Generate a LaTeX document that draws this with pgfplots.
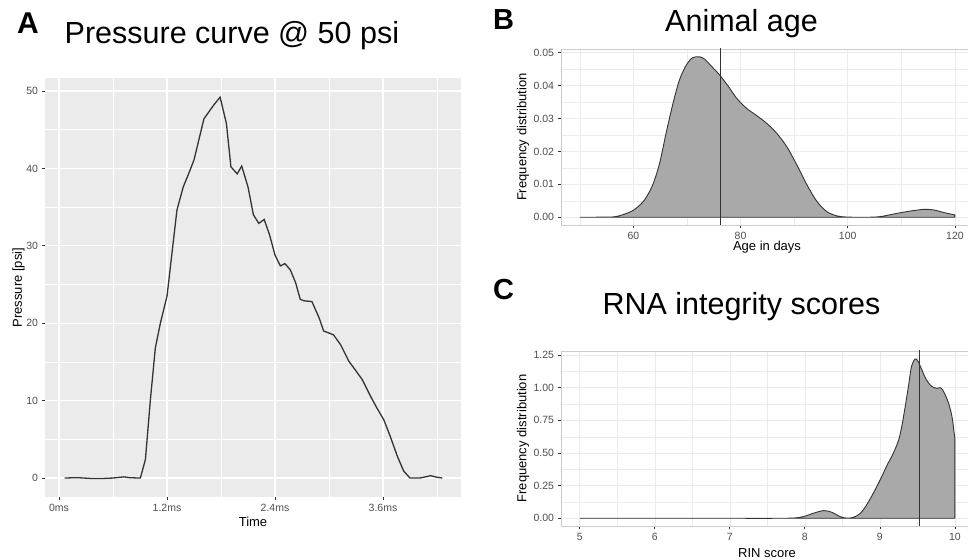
\documentclass[border=0pt]{standalone}
\usepackage{pgfplots}
\pgfplotsset{compat=1.18}
\usepackage{fontspec}
\setmainfont{Liberation Sans}
\definecolor{bgA}{HTML}{EBEBEB}
\definecolor{gridB}{HTML}{EBEBEB}
\definecolor{borderB}{HTML}{CCCCCC}
\definecolor{tickc}{HTML}{333333}
\definecolor{ticklab}{HTML}{4D4D4D}
\definecolor{fillc}{HTML}{A9A9A9}
\definecolor{linec}{HTML}{333333}
\begin{document}
\begin{tikzpicture}
\pgfplotsset{
  common/.style={scale only axis, anchor=south west, tick align=outside,
    major tick length=3.5pt, minor tick length=0pt,
    xtick pos=bottom, ytick pos=left, scaled ticks=false,
    tick style={tickc, line width=0.8pt},
    /pgf/number format/assume math mode=true,
    tick label style={font=\fontsize{10.5}{12}\selectfont, text=ticklab},
    grid=both, clip=true},
}
% ---------------- Panel A
\begin{axis}[common, at={(45pt,62pt)}, width=416pt, height=419pt,
  xmin=-0.156, xmax=4.467, ymin=-2.45, ymax=51.68,
  axis background/.style={fill=bgA}, axis line style={draw=none},
  xtick={0,1.2,2.4,3.6}, xticklabels={0ms,1.2ms,2.4ms,3.6ms},
  minor xtick={0.6,1.8,3.0,4.2},
  ytick={0,10,20,30,40,50}, yticklabels={0,10,20,30,40,50},
  minor ytick={5,15,25,35,45},
  major grid style={white, line width=1.2pt},
  minor grid style={white, line width=0.6pt}]
\addplot[linec, line width=1.3pt] coordinates {
(0.063,0) (0.2,0.05) (0.35,-0.05) (0.5,-0.05) (0.6,0) (0.72,0.15) (0.78,0.05) (0.84,0.02) (0.904,0)
(0.96,2.4) (1.015,10.1) (1.07,16.8) (1.126,20) (1.2,23.5) (1.31,34.6) (1.38,37.6) (1.44,39.3)
(1.50,41.1) (1.61,46.4) (1.72,48.2) (1.79,49.2) (1.86,45.8) (1.91,40.2) (1.98,39.3) (2.03,40.3)
(2.10,37.6) (2.16,34.0) (2.22,32.9) (2.28,33.4) (2.34,31.4) (2.40,28.8) (2.46,27.4) (2.51,27.7)
(2.57,26.9) (2.63,25.2) (2.68,23.1) (2.72,22.9) (2.81,22.8) (2.89,20.7) (2.94,19.0) (3.05,18.5)
(3.13,17.2) (3.22,15.1) (3.29,14.0) (3.37,12.7) (3.46,10.6) (3.53,9.1) (3.61,7.5) (3.68,5.4)
(3.76,2.8) (3.83,0.9) (3.90,0) (4.01,0) (4.13,0.3) (4.2,0.1) (4.26,0)};
\end{axis}
% ---------------- Panel B
\begin{axis}[common, at={(561pt,334pt)}, width=412.7pt, height=176pt,
  xmin=46.5, xmax=123.5, ymin=-0.00234, ymax=0.05112,
  axis line style={borderB, line width=0.8pt},
  xtick={60,80,100,120}, xticklabels={60,80,100,120}, minor xtick={50,70,90,110},
  ytick={0,0.01,0.02,0.03,0.04,0.05}, yticklabels={0.00,0.01,0.02,0.03,0.04,0.05},
  minor ytick={0.005,0.015,0.025,0.035,0.045},
  major grid style={gridB, line width=0.6pt},
  minor grid style={gridB, line width=0.3pt}]
\addplot[smooth, tension=0.5, fill=fillc, draw=linec, line width=0.9pt] coordinates {
(50,0) (54,0.00003) (56.75,0.0002) (59.25,0.0015) (60.5,0.0027) (62.1,0.0053) (63.6,0.0098)
(64.9,0.0164) (66.1,0.0255) (67.4,0.0346) (68.6,0.0417) (69.9,0.0463) (71.1,0.0485) (72.4,0.0487)
(73.3,0.0480) (74.6,0.0458) (76.1,0.0432) (77.7,0.0398) (79.25,0.0362) (81.1,0.0331) (83.0,0.0309)
(84.9,0.0285) (86.75,0.0255) (88.6,0.0215) (90.5,0.0159) (92.4,0.0098) (94.25,0.0048) (96.1,0.0017)
(98.0,0.0004) (100,0.00005) (103.6,0) (106.1,0.0002) (109.25,0.0012) (111.75,0.0019) (114.25,0.0024)
(116.1,0.0022) (118.0,0.0014) (120,0.0007)} \closedcycle;
\addplot[linec, line width=1pt] coordinates {(76.25,-1) (76.25,1)};
\end{axis}
% ---------------- Panel C
\begin{axis}[common, at={(561pt,33pt)}, width=412.7pt, height=175pt,
  xmin=4.75, xmax=10.25, ymin=-0.059, ymax=1.281,
  axis line style={borderB, line width=0.8pt},
  xtick={5,6,7,8,9,10}, xticklabels={5,6,7,8,9,10}, minor xtick={5.5,6.5,7.5,8.5,9.5},
  ytick={0,0.25,0.5,0.75,1,1.25}, yticklabels={0.00,0.25,0.50,0.75,1.00,1.25},
  minor ytick={0.125,0.375,0.625,0.875,1.125},
  major grid style={gridB, line width=0.6pt},
  minor grid style={gridB, line width=0.3pt}]
\addplot[smooth, tension=0.5, fill=fillc, draw=linec, line width=0.9pt] coordinates {
(5,0) (6,0) (7,0) (7.6,0) (7.85,0.002) (7.98,0.013) (8.11,0.038) (8.25,0.059) (8.36,0.046)
(8.47,0.013) (8.56,0.001) (8.65,0.008) (8.74,0.038) (8.82,0.10) (8.91,0.19) (9.0,0.29)
(9.09,0.40) (9.18,0.50) (9.25,0.60) (9.29,0.70) (9.33,0.83) (9.38,1.01) (9.42,1.16) (9.47,1.22)
(9.51,1.20) (9.56,1.135) (9.62,1.06) (9.69,1.01) (9.76,0.995) (9.80,1.0) (9.84,0.98) (9.91,0.89)
(9.96,0.78) (9.99,0.65) (10,0.61)} \closedcycle;
\addplot[linec, line width=1pt] coordinates {(9.525,-1) (9.525,2)};
\end{axis}
% ---------------- Texts
\node[anchor=base west, inner sep=0pt, font=\fontsize{30}{36}\selectfont\bfseries] at (17pt,525.7pt) {A};
\node[anchor=base west, inner sep=0pt, font=\fontsize{30.5}{36}\selectfont] at (64.5pt,515.7pt) {Pressure curve @ 50 psi};
\node[anchor=base, inner sep=0pt, font=\fontsize{13}{15}\selectfont] at (253pt,32.3pt) {Time};
\node[rotate=90, anchor=center, inner sep=0pt, font=\fontsize{13}{15}\selectfont] at (18.5pt,271.5pt) {Pressure [psi]};
\node[anchor=base west, inner sep=0pt, font=\fontsize{29}{36}\selectfont\bfseries] at (493pt,529pt) {B};
\node[anchor=base, inner sep=0pt, font=\fontsize{30.5}{36}\selectfont] at (741.5pt,527pt) {Animal age};
\node[anchor=base, inner sep=0pt, font=\fontsize{13}{15}\selectfont] at (767pt,308.3pt) {Age in days};
\node[rotate=90, anchor=center, inner sep=0pt, font=\fontsize{13}{15}\selectfont] at (523pt,422pt) {Frequency distribution};
\node[anchor=base west, inner sep=0pt, font=\fontsize{29}{36}\selectfont\bfseries] at (493pt,259pt) {C};
\node[anchor=base, inner sep=0pt, font=\fontsize{30.5}{36}\selectfont] at (741.5pt,244pt) {RNA integrity scores};
\node[anchor=base, inner sep=0pt, font=\fontsize{13}{15}\selectfont] at (767pt,1.5pt) {RIN score};
\node[rotate=90, anchor=center, inner sep=0pt, font=\fontsize{13}{15}\selectfont] at (523pt,120.5pt) {Frequency distribution};
\pgfresetboundingbox
\path[use as bounding box] (0pt,0pt) rectangle (968pt,559pt);
\end{tikzpicture}
\end{document}
